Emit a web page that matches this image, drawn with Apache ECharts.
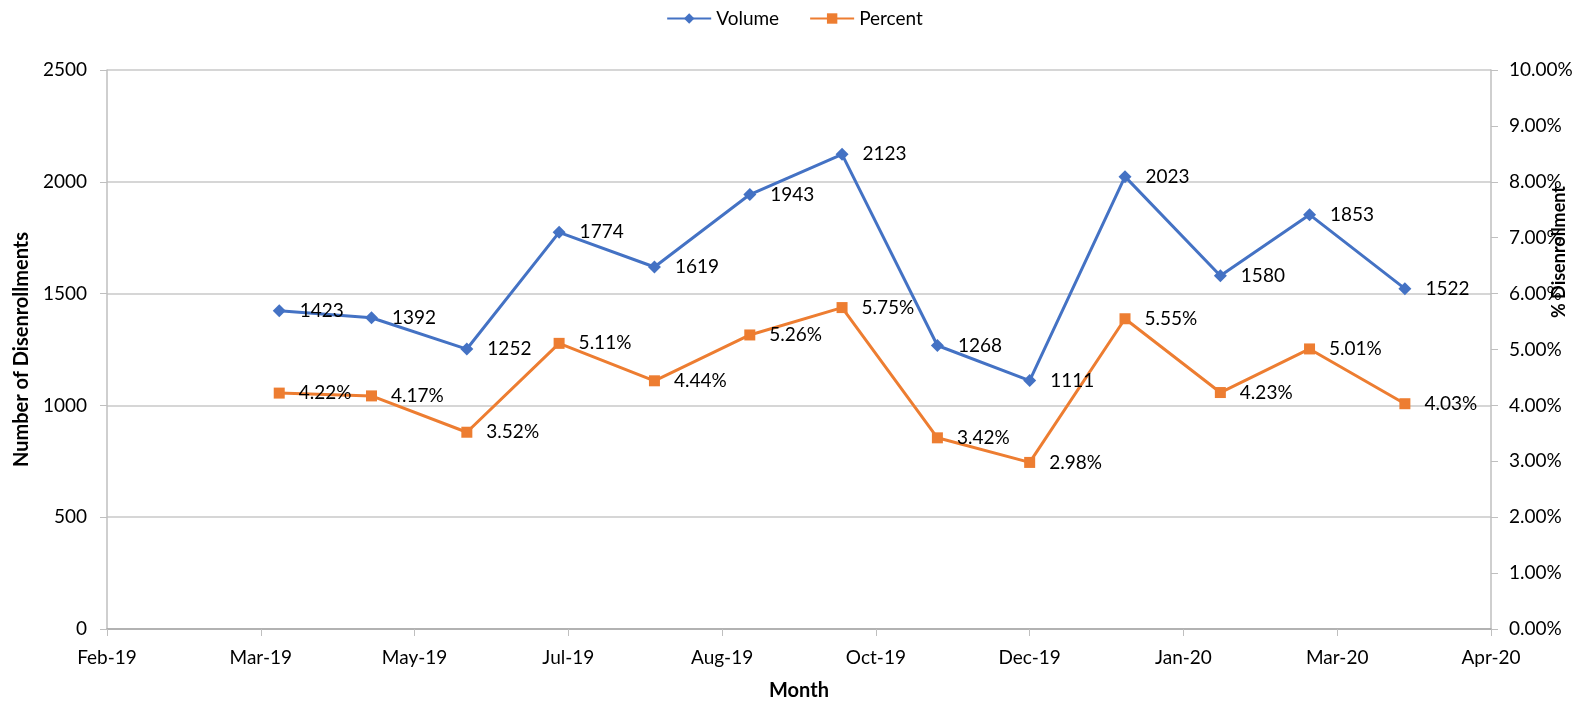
<!DOCTYPE html>
<html>
<head>
<meta charset="utf-8">
<script src="https://cdn.jsdelivr.net/npm/echarts@6/dist/echarts.min.js"></script>
<style>
html,body{margin:0;padding:0;background:#fff;}
#c{width:1589px;height:704px;}
</style>
</head>
<body>
<div id="c"></div>
<script>
// Data
const months = ['2019-04-01','2019-05-01','2019-06-01','2019-07-01','2019-08-01','2019-09-01','2019-10-01','2019-11-01','2019-12-01','2020-01-01','2020-02-01','2020-03-01','2020-04-01'];
const volume = [1423,1392,1252,1774,1619,1943,2123,1268,1111,2023,1580,1853,1522];
const percent = [4.22,4.17,3.52,5.11,4.44,5.26,5.75,3.42,2.98,5.55,4.23,5.01,4.03];
const monthNames = ['Jan','Feb','Mar','Apr','May','Jun','Jul','Aug','Sep','Oct','Nov','Dec'];

// Excel-style date serials (days since 1899-12-30)
const EPOCH = Date.UTC(1899, 11, 30);
function toSerial(s){ const p = s.split('-').map(Number); return Math.round((Date.UTC(p[0], p[1]-1, p[2]) - EPOCH)/86400000); }
function serialLabel(v){ const d = new Date(EPOCH + v*86400000); return monthNames[d.getUTCMonth()] + '-' + String(d.getUTCFullYear()).slice(2); }
const xs = months.map(toSerial);

const FONT = 'Lato, "Open Sans", sans-serif';
const TXT = '#000';
const chart = echarts.init(document.getElementById('c'), null, {renderer:'canvas'});
chart.setOption({
  animation:false,
  textStyle:{fontFamily:FONT},
  legend:{
    top:4, left:'center', itemWidth:44, itemHeight:13, itemGap:30,
    textStyle:{fontFamily:FONT, fontSize:19, color:TXT},
    data:['Volume','Percent']
  },
  grid:{left:107, right:98, top:70, bottom:75, containLabel:false, outerBoundsMode:'none'},
  graphic:[{
    type:'text', x:1559, y:252, rotation:Math.PI/2,
    style:{text:'% Disenrollment', fontFamily:FONT, fontSize:18, fontWeight:'bold', fill:TXT,
      textAlign:'center', textVerticalAlign:'middle'},
    z:10
  }],
  xAxis:{
    type:'value', min:43500, max:43950, interval:50,
    name:'Month', nameLocation:'middle', nameGap:52,
    nameTextStyle:{fontFamily:FONT, fontSize:20, fontWeight:'bold', color:TXT},
    axisLine:{show:true, lineStyle:{color:'#A6A6A6', width:1.5}},
    axisTick:{show:true, length:7, lineStyle:{color:'#BFBFBF'}},
    axisLabel:{formatter:serialLabel, fontSize:19, color:TXT, margin:19, fontFamily:FONT},
    splitLine:{show:false}
  },
  yAxis:[{
    type:'value', min:0, max:2500, interval:500,
    name:'Number of Disenrollments', nameLocation:'middle', nameGap:70, nameRotate:90,
    nameTextStyle:{fontFamily:FONT, fontSize:20, fontWeight:'bold', color:TXT},
    axisLine:{show:true, lineStyle:{color:'#BFBFBF', width:1.5}},
    axisTick:{show:true, length:7, lineStyle:{color:'#BFBFBF'}},
    axisLabel:{formatter:function(v){return String(v);}, fontSize:19, color:TXT, margin:20, fontFamily:FONT},
    splitLine:{show:true, lineStyle:{color:'#C8C8C8', width:1.5}}
  },{
    type:'value', min:0, max:10, interval:1, position:'right',
    axisLine:{show:true, lineStyle:{color:'#BFBFBF', width:1.5}},
    axisTick:{show:true, length:7, lineStyle:{color:'#BFBFBF'}},
    axisLabel:{formatter:function(v){return v.toFixed(2)+'%';}, fontSize:19, color:TXT, margin:18, fontFamily:FONT},
    splitLine:{show:false}
  }],
  series:[{
    name:'Volume', type:'line', yAxisIndex:0,
    data:xs.map((x,i)=>[x, volume[i]]),
    symbol:'diamond', symbolSize:13,
    lineStyle:{color:'#4472C4', width:3},
    itemStyle:{color:'#4472C4'},
    label:{show:true, position:'right', distance:14, fontSize:19, color:TXT, fontFamily:FONT,
      formatter:p=>String(p.value[1])},
    z:3
  },{
    name:'Percent', type:'line', yAxisIndex:1,
    data:xs.map((x,i)=>[x, percent[i]]),
    symbol:'rect', symbolSize:11,
    lineStyle:{color:'#ED7D31', width:3},
    itemStyle:{color:'#ED7D31'},
    label:{show:true, position:'right', distance:14, fontSize:19, color:TXT, fontFamily:FONT,
      formatter:p=>p.value[1].toFixed(2)+'%'},
    z:2
  }]
});
</script>
</body>
</html>
